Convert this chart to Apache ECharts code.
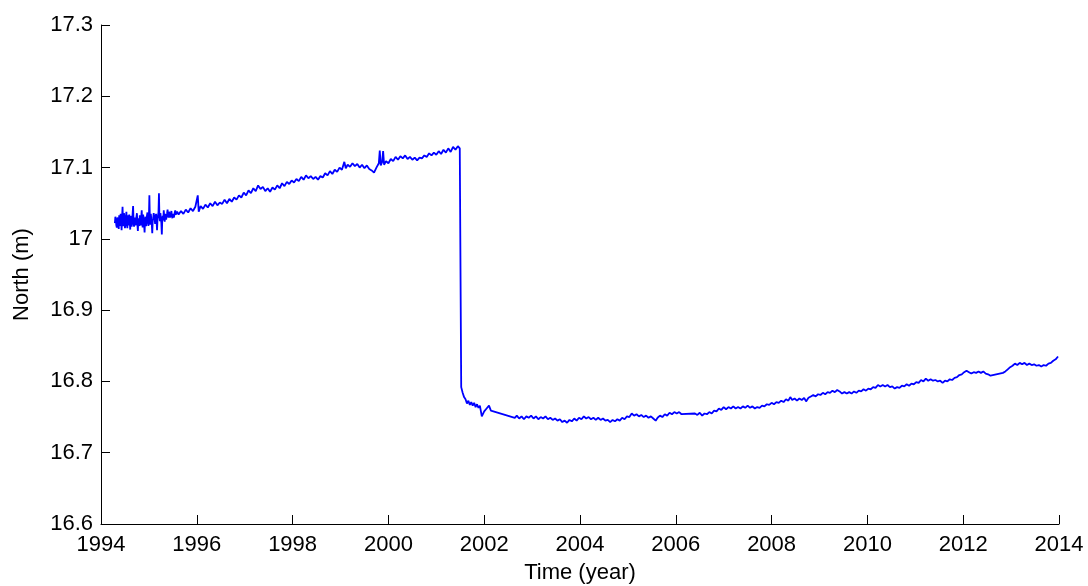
<!DOCTYPE html>
<html>
<head>
<meta charset="utf-8">
<title>North (m)</title>
<script src="https://cdn.jsdelivr.net/npm/echarts@6/dist/echarts.min.js"></script>
<style>
  html, body { margin: 0; padding: 0; background: #ffffff; }
  #chart { width: 1088px; height: 586px; }
</style>
</head>
<body>
<div id="chart"></div>
<script>
// GPS north component, station daily positions [decimal year, north (m)]
const xTicks = [1994, 1996, 1998, 2000, 2002, 2004, 2006, 2008, 2010, 2012, 2014];
const yTicks = [16.6, 16.7, 16.8, 16.9, 17.0, 17.1, 17.2, 17.3];

// early, noisy part of the record
const northEarly = [
  [1994.29, 17.022], [1994.30, 17.031], [1994.31, 17.028], [1994.32, 17.019], [1994.33, 17.016],
  [1994.34, 17.027], [1994.35, 17.030], [1994.36, 17.021], [1994.37, 17.014], [1994.38, 17.033],
  [1994.39, 17.026], [1994.40, 17.018], [1994.41, 17.035], [1994.42, 17.024], [1994.43, 17.012],
  [1994.44, 17.030], [1994.45, 17.045], [1994.46, 17.021], [1994.47, 17.018], [1994.48, 17.036],
  [1994.49, 17.031], [1994.50, 17.015], [1994.51, 17.020], [1994.52, 17.029], [1994.53, 17.038],
  [1994.54, 17.022], [1994.55, 17.015], [1994.56, 17.033], [1994.57, 17.027], [1994.58, 17.019],
  [1994.59, 17.034], [1994.60, 17.025], [1994.61, 17.013], [1994.62, 17.032], [1994.63, 17.029],
  [1994.64, 17.017], [1994.65, 17.022], [1994.66, 17.035], [1994.67, 17.046], [1994.68, 17.024],
  [1994.69, 17.017], [1994.70, 17.026], [1994.71, 17.030], [1994.72, 17.019], [1994.73, 17.024],
  [1994.74, 17.031], [1994.75, 17.036], [1994.76, 17.020], [1994.77, 17.011], [1994.78, 17.029],
  [1994.79, 17.027], [1994.80, 17.018], [1994.81, 17.033], [1994.82, 17.026], [1994.83, 17.019],
  [1994.84, 17.030], [1994.85, 17.040], [1994.86, 17.023], [1994.87, 17.016], [1994.88, 17.034],
  [1994.89, 17.028], [1994.90, 17.020], [1994.91, 17.009], [1994.92, 17.027], [1994.93, 17.031],
  [1994.94, 17.018], [1994.95, 17.023], [1994.96, 17.033], [1994.97, 17.037], [1994.98, 17.025],
  [1994.99, 17.018], [1995.00, 17.030], [1995.01, 17.061], [1995.02, 17.029], [1995.03, 17.020],
  [1995.04, 17.035], [1995.05, 17.033], [1995.06, 17.021], [1995.07, 17.008], [1995.08, 17.026],
  [1995.09, 17.029], [1995.10, 17.036], [1995.11, 17.038], [1995.12, 17.027], [1995.13, 17.021],
  [1995.14, 17.032], [1995.15, 17.035], [1995.16, 17.024], [1995.17, 17.012], [1995.18, 17.028],
  [1995.19, 17.030], [1995.20, 17.037], [1995.21, 17.064], [1995.22, 17.031], [1995.23, 17.025],
  [1995.24, 17.036], [1995.25, 17.034], [1995.26, 17.022], [1995.27, 17.006], [1995.28, 17.029],
  [1995.29, 17.032], [1995.30, 17.026], [1995.31, 17.040], [1995.32, 17.031], [1995.33, 17.024],
  [1995.34, 17.035], [1995.35, 17.036], [1995.36, 17.027], [1995.37, 17.028], [1995.38, 17.036],
  [1995.39, 17.041], [1995.40, 17.033], [1995.41, 17.030], [1995.42, 17.038], [1995.43, 17.037],
  [1995.44, 17.030], [1995.45, 17.031], [1995.46, 17.036], [1995.47, 17.039], [1995.48, 17.032],
  [1995.49, 17.029], [1995.50, 17.035], [1995.51, 17.036], [1995.52, 17.030], [1995.53, 17.033],
  [1995.54, 17.037], [1995.55, 17.040], [1995.56, 17.034], [1995.57, 17.032], [1995.58, 17.036],
  [1995.59, 17.038]
];

// steady northward drift up to the offset
const northPreEvent = [
  [1995.62, 17.034], [1995.67, 17.039], [1995.72, 17.035], [1995.77, 17.041], [1995.82, 17.037],
  [1995.87, 17.043], [1995.92, 17.039], [1995.97, 17.045], [1996.02, 17.061], [1996.04, 17.038],
  [1996.08, 17.046], [1996.13, 17.042], [1996.18, 17.048], [1996.23, 17.044], [1996.28, 17.050],
  [1996.33, 17.046], [1996.38, 17.052], [1996.43, 17.047], [1996.48, 17.051], [1996.53, 17.049],
  [1996.58, 17.055], [1996.63, 17.050], [1996.68, 17.056], [1996.73, 17.052], [1996.78, 17.058],
  [1996.83, 17.055], [1996.88, 17.061], [1996.93, 17.058], [1996.98, 17.065], [1997.03, 17.061],
  [1997.08, 17.068], [1997.13, 17.064], [1997.18, 17.071], [1997.23, 17.067], [1997.28, 17.075],
  [1997.33, 17.070], [1997.38, 17.073], [1997.43, 17.067], [1997.48, 17.071], [1997.53, 17.066],
  [1997.58, 17.072], [1997.63, 17.069], [1997.68, 17.075], [1997.73, 17.071], [1997.78, 17.078],
  [1997.83, 17.074], [1997.88, 17.080], [1997.93, 17.077], [1997.98, 17.082], [1998.03, 17.079],
  [1998.08, 17.084], [1998.13, 17.081], [1998.18, 17.087], [1998.23, 17.083], [1998.28, 17.089],
  [1998.33, 17.085], [1998.38, 17.088], [1998.43, 17.084], [1998.48, 17.087], [1998.53, 17.083],
  [1998.58, 17.088], [1998.63, 17.086], [1998.68, 17.092], [1998.73, 17.089], [1998.78, 17.095],
  [1998.83, 17.091], [1998.88, 17.097], [1998.93, 17.094], [1998.98, 17.100], [1999.03, 17.097],
  [1999.08, 17.108], [1999.11, 17.099], [1999.15, 17.104], [1999.20, 17.101], [1999.25, 17.106],
  [1999.30, 17.102], [1999.35, 17.105], [1999.40, 17.100], [1999.45, 17.104], [1999.50, 17.099],
  [1999.55, 17.103], [1999.60, 17.098], [1999.65, 17.096], [1999.70, 17.093], [1999.75, 17.100],
  [1999.80, 17.106], [1999.82, 17.124], [1999.84, 17.103], [1999.87, 17.108], [1999.89, 17.123],
  [1999.91, 17.104], [1999.95, 17.109], [2000.00, 17.106], [2000.05, 17.112], [2000.10, 17.109],
  [2000.15, 17.115], [2000.20, 17.111], [2000.25, 17.116], [2000.30, 17.113], [2000.35, 17.117],
  [2000.40, 17.112], [2000.45, 17.115], [2000.50, 17.111], [2000.55, 17.114], [2000.60, 17.110],
  [2000.65, 17.114], [2000.70, 17.113], [2000.75, 17.117], [2000.80, 17.115], [2000.85, 17.120],
  [2000.90, 17.117], [2000.95, 17.121], [2001.00, 17.118], [2001.05, 17.123], [2001.10, 17.119],
  [2001.15, 17.125], [2001.20, 17.121], [2001.25, 17.127], [2001.30, 17.122], [2001.35, 17.129],
  [2001.40, 17.125], [2001.45, 17.130], [2001.49, 17.127]
];

// after the offset: fast decay, then slow recovery
const northPostEvent = [
  [2001.52, 16.792], [2001.55, 16.784], [2001.58, 16.778], [2001.61, 16.775], [2001.64, 16.769],
  [2001.67, 16.773], [2001.70, 16.767], [2001.73, 16.771], [2001.76, 16.766], [2001.79, 16.770],
  [2001.82, 16.764], [2001.85, 16.768], [2001.88, 16.763], [2001.91, 16.766], [2001.95, 16.751],
  [2002.00, 16.758], [2002.05, 16.762], [2002.10, 16.766], [2002.14, 16.759], [2002.18, 16.758],
  [2002.64, 16.749], [2002.68, 16.752], [2002.73, 16.748], [2002.78, 16.751], [2002.83, 16.747],
  [2002.88, 16.751], [2002.93, 16.749], [2002.98, 16.752], [2003.03, 16.748], [2003.08, 16.751],
  [2003.13, 16.747], [2003.18, 16.750], [2003.23, 16.748], [2003.28, 16.751], [2003.33, 16.747],
  [2003.38, 16.749], [2003.43, 16.746], [2003.48, 16.748], [2003.53, 16.745], [2003.58, 16.747],
  [2003.63, 16.743], [2003.68, 16.745], [2003.73, 16.742], [2003.78, 16.746], [2003.83, 16.744],
  [2003.88, 16.748], [2003.93, 16.745], [2003.98, 16.749], [2004.03, 16.747], [2004.08, 16.751],
  [2004.13, 16.748], [2004.18, 16.750], [2004.23, 16.747], [2004.28, 16.749], [2004.33, 16.746],
  [2004.38, 16.749], [2004.43, 16.746], [2004.48, 16.748], [2004.53, 16.745], [2004.58, 16.746],
  [2004.63, 16.743], [2004.68, 16.746], [2004.73, 16.744], [2004.78, 16.747], [2004.83, 16.745],
  [2004.88, 16.749], [2004.93, 16.747], [2004.98, 16.751], [2005.03, 16.750], [2005.08, 16.755],
  [2005.13, 16.752], [2005.18, 16.754], [2005.23, 16.751], [2005.28, 16.753], [2005.33, 16.750],
  [2005.38, 16.752], [2005.43, 16.749], [2005.48, 16.751], [2005.53, 16.748], [2005.58, 16.745],
  [2005.62, 16.749], [2005.67, 16.752], [2005.72, 16.750], [2005.77, 16.754], [2005.82, 16.752],
  [2005.87, 16.756], [2005.92, 16.754], [2005.97, 16.757], [2006.02, 16.755], [2006.07, 16.757],
  [2006.12, 16.754], [2006.16, 16.756], [2006.40, 16.755], [2006.45, 16.753], [2006.50, 16.756],
  [2006.55, 16.752], [2006.60, 16.755], [2006.65, 16.754], [2006.70, 16.757], [2006.75, 16.755],
  [2006.80, 16.759], [2006.85, 16.758], [2006.90, 16.762], [2006.95, 16.760], [2007.00, 16.764],
  [2007.05, 16.761], [2007.10, 16.764], [2007.15, 16.762], [2007.20, 16.765], [2007.25, 16.762],
  [2007.30, 16.764], [2007.35, 16.762], [2007.40, 16.765], [2007.45, 16.763], [2007.50, 16.766],
  [2007.55, 16.763], [2007.60, 16.765], [2007.65, 16.762], [2007.70, 16.764], [2007.75, 16.763],
  [2007.80, 16.766], [2007.85, 16.765], [2007.90, 16.768], [2007.95, 16.767]
];

const northLate = [
  [2008.00, 16.770], [2008.05, 16.768], [2008.10, 16.771], [2008.15, 16.770], [2008.20, 16.773],
  [2008.25, 16.771], [2008.30, 16.775], [2008.35, 16.773], [2008.39, 16.778], [2008.43, 16.774],
  [2008.48, 16.776], [2008.53, 16.773], [2008.58, 16.776], [2008.63, 16.774], [2008.68, 16.777],
  [2008.72, 16.772], [2008.77, 16.777], [2008.82, 16.779], [2008.87, 16.781], [2008.92, 16.779],
  [2008.97, 16.782], [2009.02, 16.781], [2009.07, 16.784], [2009.12, 16.782], [2009.17, 16.785],
  [2009.22, 16.784], [2009.27, 16.787], [2009.32, 16.785], [2009.37, 16.788], [2009.42, 16.786],
  [2009.47, 16.783], [2009.52, 16.785], [2009.57, 16.783], [2009.62, 16.785], [2009.67, 16.783],
  [2009.72, 16.786], [2009.77, 16.784], [2009.82, 16.787], [2009.87, 16.786], [2009.92, 16.789],
  [2009.97, 16.787], [2010.02, 16.790], [2010.07, 16.789], [2010.12, 16.792], [2010.17, 16.791],
  [2010.22, 16.795], [2010.27, 16.793], [2010.32, 16.795], [2010.37, 16.793], [2010.42, 16.795],
  [2010.47, 16.792], [2010.52, 16.793], [2010.57, 16.790], [2010.62, 16.792], [2010.67, 16.791],
  [2010.72, 16.794], [2010.77, 16.793], [2010.82, 16.796], [2010.87, 16.794], [2010.92, 16.797],
  [2010.97, 16.796], [2011.02, 16.799], [2011.07, 16.798], [2011.12, 16.802], [2011.17, 16.800],
  [2011.22, 16.804], [2011.27, 16.801], [2011.32, 16.803], [2011.37, 16.801], [2011.42, 16.802],
  [2011.47, 16.800], [2011.52, 16.801], [2011.57, 16.798], [2011.62, 16.801], [2011.67, 16.800],
  [2011.72, 16.803], [2011.77, 16.802], [2011.82, 16.805], [2011.87, 16.806], [2011.92, 16.809],
  [2011.97, 16.810], [2012.02, 16.813], [2012.07, 16.815], [2012.12, 16.813], [2012.17, 16.811],
  [2012.22, 16.813], [2012.27, 16.812], [2012.32, 16.814], [2012.37, 16.812], [2012.42, 16.814],
  [2012.47, 16.811], [2012.52, 16.810], [2012.57, 16.808], [2012.83, 16.812], [2012.88, 16.814],
  [2012.93, 16.817], [2012.98, 16.820], [2013.03, 16.822], [2013.08, 16.825], [2013.13, 16.823],
  [2013.18, 16.826], [2013.23, 16.824], [2013.28, 16.826], [2013.33, 16.823], [2013.38, 16.825],
  [2013.43, 16.823], [2013.48, 16.824], [2013.53, 16.822], [2013.58, 16.823], [2013.63, 16.821],
  [2013.68, 16.823], [2013.73, 16.822], [2013.78, 16.825], [2013.83, 16.826], [2013.88, 16.829],
  [2013.93, 16.831], [2013.98, 16.835]
];

const northSeries = northEarly.concat(northPreEvent, northPostEvent, northLate);

const FONT = '"Liberation Sans", Arial, Helvetica, sans-serif';
const chart = echarts.init(document.getElementById('chart'), null, { renderer: 'canvas' });

chart.setOption({
  animation: false,
  backgroundColor: '#ffffff',
  grid: {
    left: 101, right: 29, top: 25, bottom: 62,
    containLabel: false,
    outerBoundsMode: 'none'
  },
  xAxis: {
    type: 'value',
    min: xTicks[0],
    max: xTicks[xTicks.length - 1],
    interval: 2,
    name: 'Time (year)',
    nameLocation: 'middle',
    nameGap: 38,
    nameTextStyle: { color: '#000', fontFamily: FONT, fontSize: 22 },
    axisLine: { onZero: false, lineStyle: { color: '#000', width: 1 } },
    axisTick: { inside: true, length: 9, lineStyle: { color: '#000', width: 1 } },
    axisLabel: {
      color: '#000', fontFamily: FONT, fontSize: 22, margin: 10,
      showMinLabel: true, showMaxLabel: true,
      formatter: v => String(Math.round(v))
    },
    splitLine: { show: false }
  },
  yAxis: {
    type: 'value',
    min: yTicks[0],
    max: yTicks[yTicks.length - 1],
    interval: 0.1,
    name: 'North (m)',
    nameLocation: 'middle',
    nameGap: 68,
    nameTextStyle: { color: '#000', fontFamily: FONT, fontSize: 22 },
    axisLine: { show: true, onZero: false, lineStyle: { color: '#000', width: 1 } },
    axisTick: { show: true, inside: true, length: 9, lineStyle: { color: '#000', width: 1 } },
    axisLabel: {
      color: '#000', fontFamily: FONT, fontSize: 22, margin: 8,
      showMinLabel: true, showMaxLabel: true,
      formatter: v => String(+v.toFixed(1))
    },
    splitLine: { show: false }
  },
  series: [{
    type: 'line',
    data: northSeries,
    showSymbol: false,
    symbol: 'none',
    lineStyle: { color: '#0000ff', width: 1.8 },
    silent: true
  }]
});
</script>
</body>
</html>
